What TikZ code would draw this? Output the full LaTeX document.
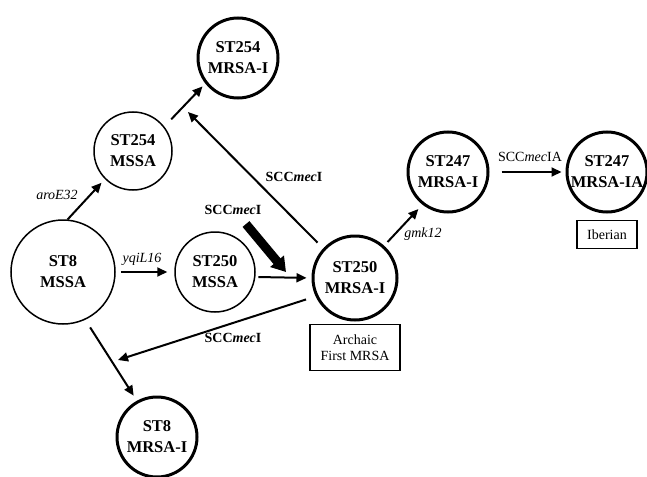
\documentclass[tikz,border=0pt]{standalone}
\usepackage{fontspec}
\setmainfont{Liberation Serif}
\usepackage{tikz}
\usetikzlibrary{arrows.meta,positioning}

\tikzset{
  mssa/.style={circle, draw, line width=1.5pt, minimum size=80pt, inner sep=0pt, align=center, font=\fontsize{16.5}{21}\selectfont\bfseries},
  mrsa/.style={mssa, line width=3pt},
  note/.style={draw, line width=1.5pt, align=center, inner sep=2pt, font=\fontsize{14}{16}\selectfont},
  arr/.style={line width=2pt, -{Triangle[length=10pt,width=9pt]}},
  bigarr/.style={line width=9pt, -{Triangle[length=14pt,width=17pt]}},
  lbl/.style={font=\fontsize{14}{16}\selectfont}
}

\begin{document}
\begin{tikzpicture}[x=1pt,y=-1pt]
\useasboundingbox (0,0) rectangle (647,476);
\node[mssa, minimum size=104pt] (st8m) at (63,272) {ST8\\MSSA};
\node[mssa, minimum size=78pt] (st254m) at (133,151) {ST254\\MSSA};
\node[mrsa] (st254r) at (238,58) {ST254\\MRSA-I};
\node[mssa] (st250m) at (215,272) {ST250\\MSSA};
\node[mrsa, minimum size=84pt] (st250r) at (355,278) {ST250\\MRSA-I};
\node[mrsa] (st247r) at (448,172) {ST247\\MRSA-I};
\node[mrsa] (st247ia) at (607,172) {ST247\\MRSA-IA};
\node[mrsa] (st8r) at (157,437) {ST8\\MRSA-I};
\node[note, minimum width=90pt, minimum height=46pt, below=2pt of st250r] (archaic) {Archaic\\First MRSA};
\node[note, minimum width=60pt, minimum height=28pt, below=6pt of st247ia] (iberian) {Iberian};

\coordinate (p254) at (188,112);
\coordinate (p8) at (118,360);
\coordinate (t0) at (246,224);
\coordinate (t1) at (286,272);

\draw[arr, shorten >=5pt] (st8m.85) -- (st254m.225);
\draw[arr, shorten <=10pt, shorten >=4pt] (st254m.38) -- (st254r.218);
\draw[arr, shorten <=8pt] (st250r.137) -- (p254);
\draw[arr, shorten <=5pt, shorten >=7pt] (st8m.east) -- (st250m.west);
\draw[arr, shorten <=3pt, shorten >=5pt] (st250m.-7) -- (st250r.west);
\draw[bigarr] (t0) -- (t1);
\draw[arr, shorten <=10pt] (st250r.205) -- (p8);
\draw[arr, shorten <=9pt, shorten >=6pt] (st8m.-65) -- (st8r.119);
\draw[arr, shorten <=5pt, shorten >=6pt] (st250r.48) -- (st247r.232);
\draw[arr, shorten <=12pt, shorten >=4pt] (st247r.east) -- (st247ia.west);

\node[lbl] (laro) at (57,195) {\textit{aroE32}};
\node[lbl] (lyqi) at (142,259) {\textit{yqiL16}};
\node[lbl] (lgmk) at (423,234) {\textit{gmk12}};
\node[lbl] (lscc1) at (294,177) {\textbf{SCC\textit{mec}I}};
\node[lbl] (lscc2) at (233,210) {\textbf{SCC\textit{mec}I}};
\node[lbl] (lscc3) at (233,338) {\textbf{SCC\textit{mec}I}};
\node[lbl] (lscc4) at (530,157) {SCC\textit{mec}IA};
\end{tikzpicture}
\end{document}
